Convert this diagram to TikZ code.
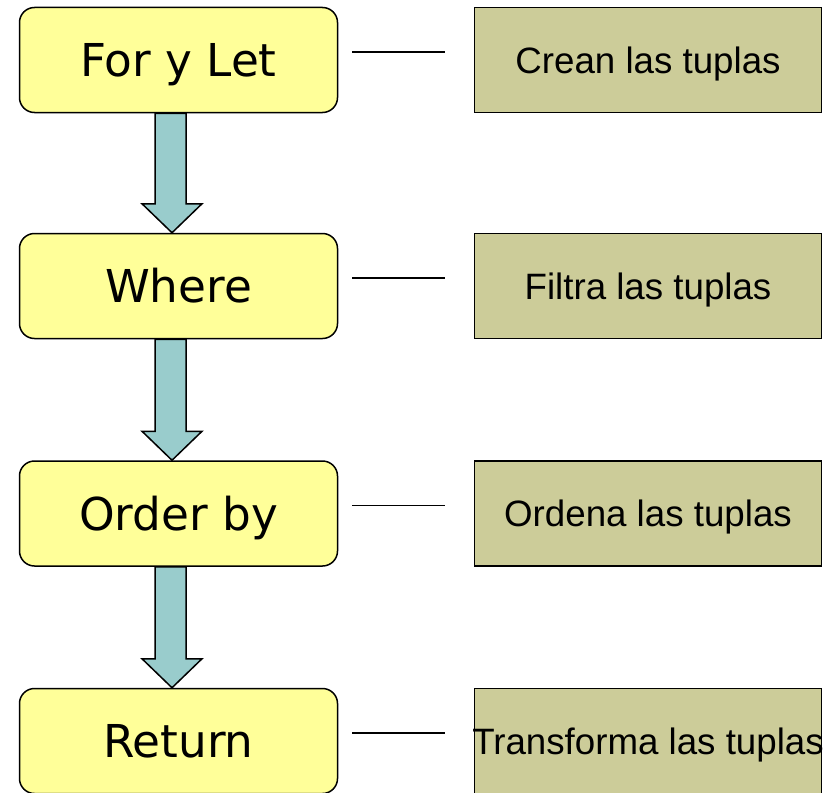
\documentclass[tikz,border=0pt]{standalone}
\usepackage{fontspec}
\usetikzlibrary{calc}
\newfontfamily\pasofont{DejaVu Sans}
\newfontfamily\notafont{Liberation Sans}
\definecolor{amarillo}{HTML}{FFFF99}
\definecolor{turquesa}{HTML}{99CCCC}
\definecolor{oliva}{HTML}{CCCC99}
\tikzset{
	paso/.style={draw, line width=1.5pt, fill=amarillo, rounded corners=15pt, minimum width=318pt, minimum height=105pt, inner sep=0pt, text height=33pt, text depth=0pt, font=\pasofont\fontsize{45.3}{54}\selectfont},
	nota/.style={draw, line width=1.5pt, fill=oliva, minimum width=347pt, minimum height=105pt, inner sep=0pt, text height=26.3pt, text depth=0pt, font=\notafont\fontsize{36.7}{44}\selectfont},
	flecha/.style={draw, line width=1.5pt, fill=turquesa, line join=miter},
	guion/.style={line width=1.2pt}
}
\def\flecha(#1)(#2){\draw[flecha] ($(#1.south)+(-23.5,0)$) -- ($(#1.south)+(7.5,0)$) -- ($(#2.north)+(7.5,-29)$) -- ($(#2.north)+(23.5,-29)$) -- ($(#2.north)+(-6.5,0)$) -- ($(#2.north)+(-36.5,-29)$) -- ($(#2.north)+(-23.5,-29)$) -- cycle;}
\def\guion(#1)(#2){\draw[guion] ($(#1.east)+(14,-8)$) -- ($(#2.west)+(-29,-8)$);}

\begin{document}
\begin{tikzpicture}[x=1pt, y=-1pt]
		%%%%% START %%%%%
		\useasboundingbox (0, 0) rectangle (834, 792);
		\clip (0, 0) rectangle (834, 792);
		
		\node[paso] (forlet) at (178.5, 60) {For y Let};
		\node[paso] (where) at (178.5, 286) {Where};
		\node[paso] (orderby) at (178.5, 513.5) {Order by};
		\node[paso] (return) at (178.5, 741) {Return};
		
		\node[nota] (crean) at (648, 60) {Crean las tuplas};
		\node[nota] (filtra) at (648, 286) {Filtra las tuplas};
		\node[nota] (ordena) at (648, 513.5) {Ordena las tuplas};
		\node[nota] (transforma) at (648, 741) {\makebox[0pt]{Transforma las tuplas}};
		
		\flecha(forlet)(where)
		\flecha(where)(orderby)
		\flecha(orderby)(return)
		
		\guion(forlet)(crean)
		\guion(where)(filtra)
		\guion(orderby)(ordena)
		\guion(return)(transforma)
		
		%%%%% END %%%%%
	\end{tikzpicture}
\end{document}
